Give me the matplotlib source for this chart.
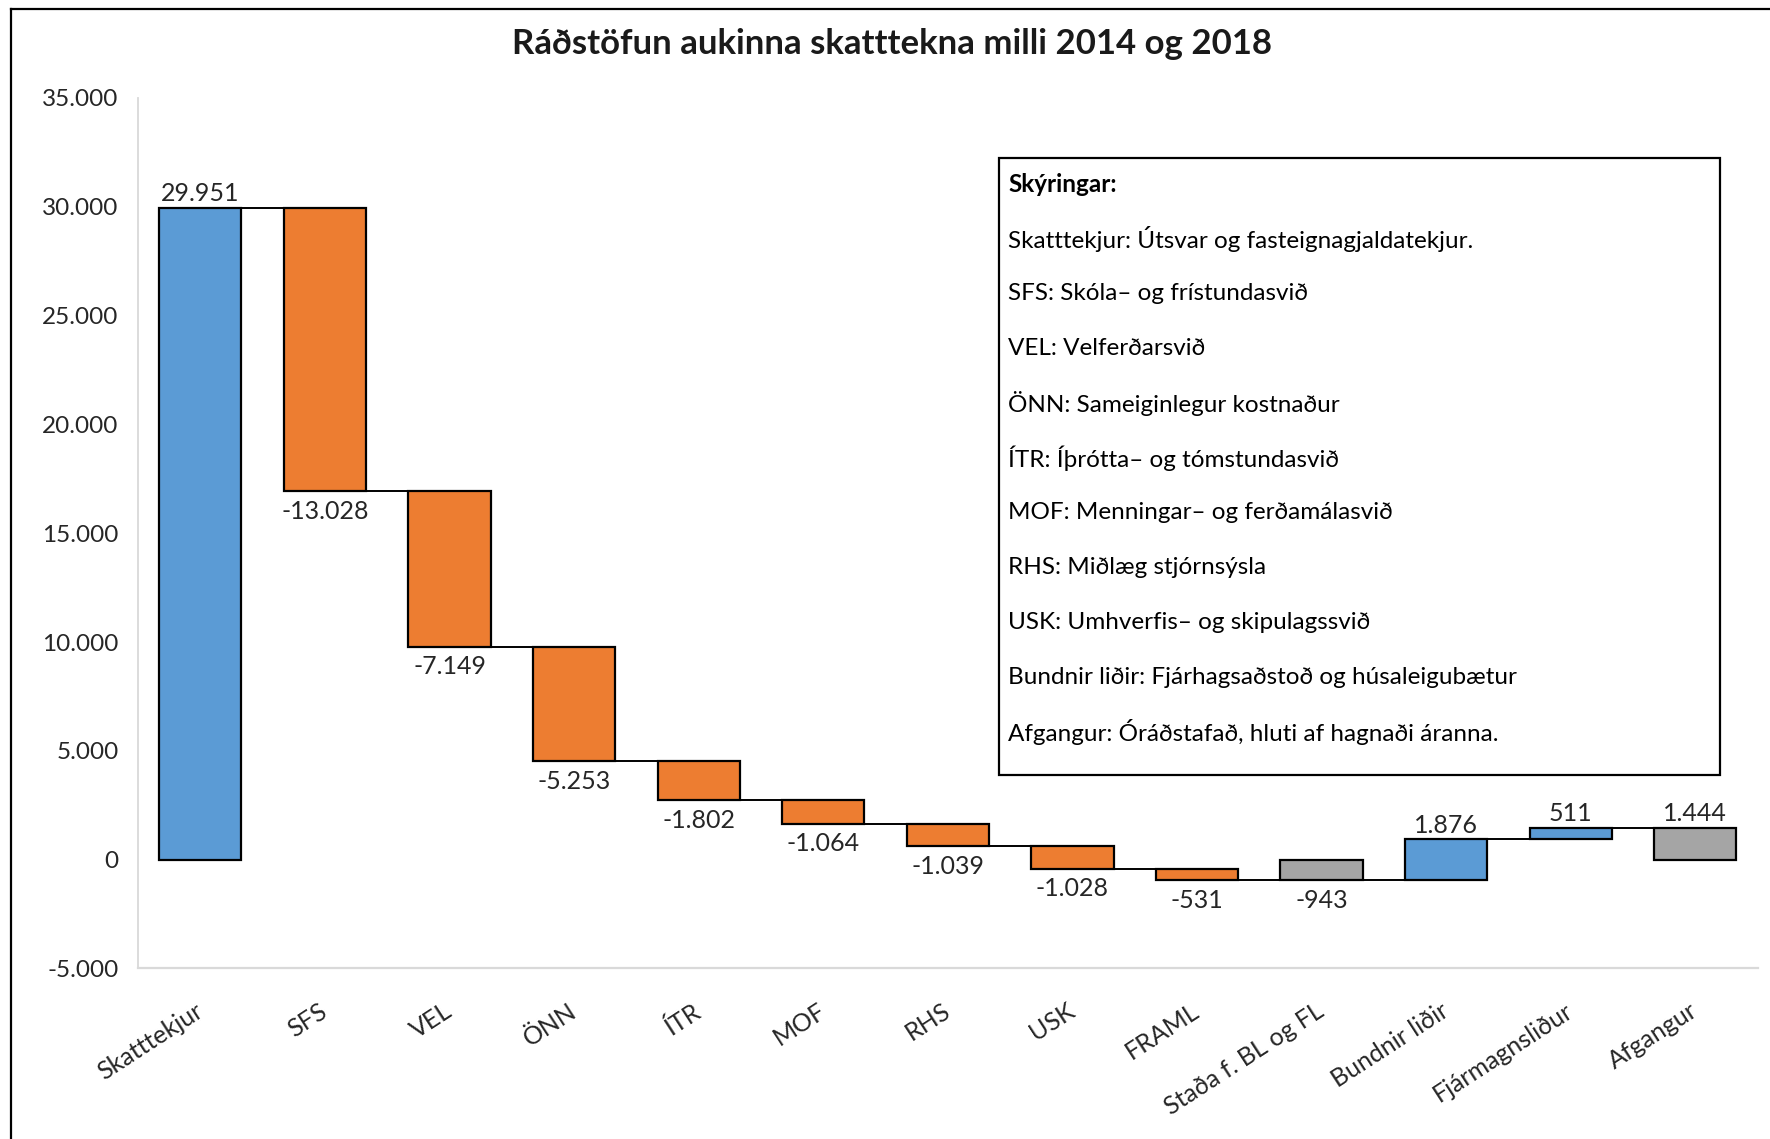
import numpy as np
import matplotlib
matplotlib.use("Agg")
from matplotlib import pyplot as plt
from matplotlib.lines import Line2D
from matplotlib.patches import Rectangle
from matplotlib.ticker import FuncFormatter

plt.rcParams['font.family'] = ['Lato', 'DejaVu Sans']

# data
categories = ["Skatttekjur", "SFS", "VEL", "ÖNN", "ÍTR", "MOF", "RHS", "USK",
              "FRAML", "Staða f. BL og FL", "Bundnir liðir", "Fjármagnsliður", "Afgangur"]
values = [29951, -13028, -7149, -5253, -1802, -1064, -1039, -1028, -531, -943, 1876, 511, 1444]
kinds = ["up", "down", "down", "down", "down", "down", "down", "down", "down",
         "total", "up", "up", "total"]

notes_title = "Skýringar:"
notes = [
    "Skatttekjur: Útsvar og fasteignagjaldatekjur.",
    "SFS: Skóla– og frístundasvið",
    "VEL: Velferðarsvið",
    "ÖNN: Sameiginlegur kostnaður",
    "ÍTR: Íþrótta– og tómstundasvið",
    "MOF: Menningar– og ferðamálasvið",
    "RHS: Miðlæg stjórnsýsla",
    "USK: Umhverfis– og skipulagssvið",
    "Bundnir liðir: Fjárhagsaðstoð og húsaleigubætur",
    "Afgangur: Óráðstafað, hluti af hagnaði áranna.",
]

colors = {"up": "#5B9BD5", "down": "#ED7D31", "total": "#A5A5A5"}

def fmt(v):
    s = f"{abs(int(v)):,}".replace(",", ".")
    return ("-" if v < 0 else "") + s

# waterfall bottoms / running totals
bottoms = []
ends = []
running = 0
for v, k in zip(values, kinds):
    if k == "total":
        bottoms.append(0)
        running = v
    else:
        bottoms.append(running)
        running += v
    ends.append(running)

fig = plt.figure(figsize=(17.7, 11.39), dpi=100)
ax = fig.add_axes([0.078, 0.1497, 0.915, 0.7643])

x = np.arange(len(categories))
w = 0.66
ax.bar(x, values, bottom=bottoms, width=w, color=[colors[k] for k in kinds],
       edgecolor="black", linewidth=1.6, zorder=3)

# connector lines
for i in range(len(x) - 1):
    ax.plot([x[i] + w / 2, x[i + 1] - w / 2], [ends[i], ends[i]],
            color="black", linewidth=1.4, zorder=2)

# data labels
for i, (v, b) in enumerate(zip(values, bottoms)):
    top = max(b, b + v)
    low = min(b, b + v)
    if v >= 0:
        ax.annotate(fmt(v), (x[i], top), xytext=(0, 2), textcoords="offset points",
                    ha="center", va="bottom", fontsize=18, color="#262626")
    else:
        ax.annotate(fmt(v), (x[i], low), xytext=(0, -6), textcoords="offset points",
                    ha="center", va="top", fontsize=18, color="#262626")

ax.set_xlim(-0.5, len(categories) - 0.5)
ax.set_ylim(-5000, 35000)
ax.set_yticks(np.arange(-5000, 35001, 5000))
ax.yaxis.set_major_formatter(FuncFormatter(lambda v, p: fmt(v)))
ax.set_xticks(x)
ax.set_xticklabels(categories, rotation=33, ha="right", va="center",
                   rotation_mode="anchor", fontsize=18, color="#262626")
ax.tick_params(axis="both", length=0)
ax.tick_params(axis="x", pad=29)
ax.tick_params(axis="y", pad=14, labelsize=17.5, labelcolor="#262626")

for s in ["top", "right"]:
    ax.spines[s].set_visible(False)
ax.spines["left"].set_color("#D9D9D9")
ax.spines["bottom"].set_color("#D9D9D9")
ax.spines["left"].set_linewidth(1.3)
ax.spines["bottom"].set_linewidth(1.6)

fig.text(0.504, 0.961, "Ráðstöfun aukinna skatttekna milli 2014 og 2018",
         ha="center", va="center", fontsize=25, fontweight="bold", color="#1a1a1a")

# notes box
fig.add_artist(Rectangle((0.5645, 0.320), 0.4075, 0.541, transform=fig.transFigure,
                         fill=True, facecolor="white", edgecolor="black", linewidth=1.6, zorder=5))
ty = 1 - 184 / 1139
fig.text(0.5695, ty, notes_title, ha="left", va="center", fontsize=17.5,
         fontweight="bold", zorder=6)
for j, line in enumerate(notes):
    fig.text(0.5695, ty - (j + 1) * 54.8 / 1139, line, ha="left", va="center",
             fontsize=17.5, zorder=6)

# outer frame (left and top edges)
fig.add_artist(Line2D([0.0062, 0.0062], [0.0, 0.992], transform=fig.transFigure,
                      color="black", linewidth=1.6))
fig.add_artist(Line2D([0.0062, 1.0], [0.992, 0.992], transform=fig.transFigure,
                      color="black", linewidth=1.6))

fig.savefig("out.png", dpi=100)
